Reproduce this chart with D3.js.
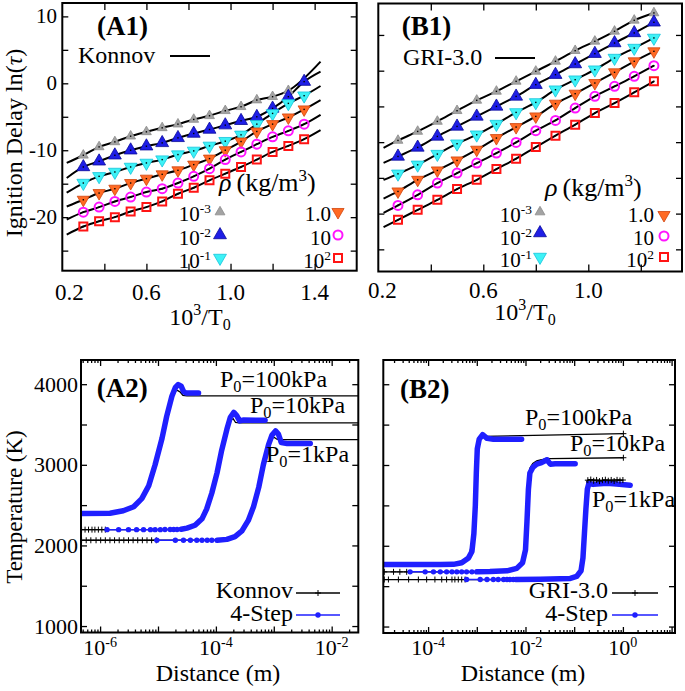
<!DOCTYPE html>
<html>
<head>
<meta charset="utf-8">
<script src="https://cdn.jsdelivr.net/npm/d3@7"></script>
<style>
  body { margin: 0; background: #fff; }
  svg { font-family: "Liberation Serif", "Times New Roman", serif; }
</style>
</head>
<body>
<div id="chart"></div>
<script>
// ---------- data: panel A1 (Konnov), ln(tau) vs 1000/T0 ----------
var xA1 = [0.30, 0.375, 0.45, 0.525, 0.60, 0.675, 0.75, 0.825, 0.90, 0.975, 1.05, 1.125, 1.20, 1.275, 1.35];
var a1Rho1e3 = [-10.75, -9.5, -8.75, -7.9, -7.25, -6.65, -6.1, -5.4, -4.85, -4.1, -3.5, -2.5, -2.0, -1.1];
var a1Rho1e2 = [-12.5, -11.65, -10.75, -10.0, -9.4, -8.9, -8.15, -7.5, -6.9, -6.25, -5.6, -5.0, -3.75, -2.0, 0.25];
var a1Rho1e1 = [-14.9, -13.9, -13.25, -12.5, -11.9, -11.4, -10.65, -10.1, -9.35, -8.65, -7.7, -6.1, -4.5, -3.0, -1.85];
var a1Rho1 = [-17.4, -16.4, -15.75, -14.9, -14.25, -13.6, -13.0, -12.15, -11.25, -10.0, -8.7, -7.2, -6.1, -5.1, -3.9];
var a1Rho10 = [-19.25, -18.5, -17.65, -17.0, -16.25, -15.75, -14.9, -13.9, -12.75, -11.4, -10.25, -9.1, -8.0, -7.1, -6.1];
var a1Rho100 = [-21.4, -20.6, -20.0, -19.15, -18.5, -17.65, -16.5, -15.6, -14.5, -13.5, -12.5, -11.4, -10.25, -9.35, -8.35];
var a1LineX = [0.221, 1.428];
var a1LineStart = [-11.9, -14.15, -16.35, -18.4, -20.35, -22.6];
var a1LineEnd = [3.24, 1.75, -0.4, -2.5, -4.7, -7.0];

// ---------- data: panel B1 (GRI-3.0) ----------
var xB1 = [0.275, 0.35, 0.425, 0.50, 0.575, 0.65, 0.725, 0.80, 0.875, 0.95, 1.025, 1.10, 1.175, 1.25];
var b1Rho1e3 = [-9.76, -8.5, -7.1, -5.6, -4.15, -2.89, -1.49, -0.09, 1.31, 2.8, 4.11, 5.51, 7.05, 8.08];
var b1Rho1e2 = [-12.0, -10.74, -9.2, -7.8, -6.4, -5.0, -3.6, -1.96, -0.56, 0.93, 2.38, 3.87, 5.28, 6.77];
var b1Rho1e1 = [-14.43, -13.17, -11.67, -10.22, -8.96, -7.47, -5.84, -4.44, -2.66, -1.26, 0.14, 1.77, 3.17, 4.58];
var b1Rho1 = [-16.9, -15.27, -13.96, -12.56, -11.06, -9.43, -7.89, -6.4, -4.62, -3.22, -1.73, -0.23, 1.31, 2.71];
var b1Rho10 = [-18.86, -17.37, -15.73, -14.33, -12.93, -11.53, -10.04, -8.4, -6.96, -5.23, -3.59, -2.19, -0.79, 0.7];
var b1Rho100 = [-20.87, -19.47, -18.07, -16.57, -15.27, -13.77, -12.32, -10.69, -9.1, -7.56, -5.93, -4.53, -3.03, -1.49];
var b1LineX = 0.22;
var b1LineStart = [-10.8, -12.9, -15.3, -17.9, -19.9, -21.9];

var rhoLegend = [["10", "-3"], ["10", "-2"], ["10", "-1"], ["1.0", ""], ["10", ""], ["10", "2"]];

// ---------- data: panel A2, [log10(distance m), temperature K] ----------
var a2Blue100 = [[-6.33, 2395], [-5.83, 2400], [-5.6, 2430], [-5.42, 2480], [-5.28, 2580], [-5.16, 2740], [-5.05, 3000],
  [-4.93, 3330], [-4.85, 3600], [-4.76, 3850], [-4.7, 3960], [-4.65, 3995], [-4.6, 3975], [-4.56, 3910], [-4.52, 3890], [-4.3, 3890]];
var a2Black100 = [[-6.33, 2395], [-5.83, 2400], [-5.6, 2425], [-5.42, 2470], [-5.28, 2565], [-5.16, 2725], [-5.05, 2985],
  [-4.93, 3315], [-4.85, 3585], [-4.76, 3830], [-4.68, 3930], [-4.62, 3905], [-4.57, 3860], [-4.5, 3855], [-1.54, 3855]];
var a2BlueDots10 = [[-5.88, 2196], [-5.68, 2196], [-5.51, 2196], [-5.37, 2196], [-5.25, 2196], [-5.13, 2196], [-5.05, 2196],
  [-4.96, 2196], [-4.88, 2197], [-4.79, 2197], [-4.73, 2198], [-4.67, 2198]];
var a2Blue10 = [[-4.6, 2200], [-4.5, 2215], [-4.36, 2250], [-4.24, 2330], [-4.16, 2450], [-4.07, 2650], [-3.98, 2900],
  [-3.9, 3180], [-3.81, 3440], [-3.75, 3590], [-3.69, 3650], [-3.64, 3610], [-3.59, 3545], [-3.52, 3555], [-3.15, 3553]];
var a2Cross10 = [[-6.32, 2196], [-6.26, 2196], [-6.2, 2196], [-6.14, 2196], [-6.09, 2196], [-6.03, 2196], [-5.97, 2196], [-5.91, 2196]];
var a2Black10 = [[-4.6, 2198], [-4.36, 2240], [-4.24, 2310], [-4.16, 2420], [-4.07, 2610], [-3.98, 2860], [-3.9, 3140],
  [-3.81, 3410], [-3.74, 3560], [-3.7, 3570], [-3.66, 3525], [-3.6, 3520], [-1.54, 3520]];
var a2BlueDots1 = [[-5.02, 2064], [-4.7, 2064], [-4.56, 2064], [-4.44, 2064], [-4.33, 2064], [-4.24, 2064], [-4.15, 2064], [-4.07, 2064]];
var a2Blue1 = [[-3.98, 2064], [-3.81, 2075], [-3.67, 2110], [-3.55, 2180], [-3.44, 2310], [-3.35, 2480], [-3.26, 2720],
  [-3.18, 3000], [-3.09, 3250], [-3.03, 3370], [-2.97, 3420], [-2.92, 3380], [-2.87, 3275], [-2.77, 3265], [-2.37, 3265]];
var a2Cross1 = [[-6.32, 2064], [-6.24, 2064], [-6.16, 2064], [-6.07, 2064], [-5.99, 2064], [-5.91, 2064], [-5.83, 2064], [-5.75, 2064],
  [-5.67, 2064], [-5.59, 2064], [-5.51, 2064], [-5.43, 2064], [-5.35, 2064], [-5.27, 2064], [-5.19, 2064], [-5.11, 2064], [-5.03, 2064]];
var a2Black1 = [[-3.98, 2064], [-3.67, 2105], [-3.55, 2170], [-3.44, 2290], [-3.35, 2455], [-3.26, 2690], [-3.18, 2970],
  [-3.09, 3225], [-3.03, 3330], [-2.99, 3340], [-2.94, 3315], [-2.85, 3313], [-1.54, 3313]];

// ---------- data: panel B2 ----------
var b2Blue100 = [[-4.92, 1768], [-4.44, 1768], [-4.1, 1768], [-3.75, 1768], [-3.48, 1770], [-3.31, 1790], [-3.17, 1850], [-3.1, 1930],
  [-3.06, 2150], [-3.03, 2500], [-3.01, 2900], [-2.99, 3200], [-2.95, 3320], [-2.88, 3375], [-2.79, 3330], [-2.66, 3320], [-2.08, 3318]];
var b2Black100 = [[-4.92, 1768], [-3.48, 1770], [-3.17, 1850], [-3.06, 2150], [-3.01, 2900], [-2.95, 3320], [-2.88, 3360],
  [-2.85, 3355], [0.01, 3388]];
var b2BlueDots10 = [[-4.37, 1677], [-4.06, 1677], [-3.89, 1677], [-3.75, 1677], [-3.62, 1677], [-3.51, 1677], [-3.41, 1677],
  [-3.31, 1677], [-3.21, 1677], [-3.1, 1677]];
var b2Blue10 = [[-3.0, 1677], [-2.73, 1680], [-2.38, 1690], [-2.18, 1720], [-2.06, 1790], [-2.0, 1950], [-1.97, 2300], [-1.94, 2700],
  [-1.91, 2900], [-1.85, 2970], [-1.77, 3010], [-1.67, 3030], [-1.56, 3065], [-1.49, 3010], [-1.39, 3015], [-0.98, 3016]];
var b2Cross10 = [[-4.9, 1677], [-4.71, 1677], [-4.58, 1677], [-4.44, 1677]];
var b2Black10 = [[-3.0, 1677], [-2.38, 1690], [-2.18, 1722], [-2.06, 1800], [-2.0, 2000], [-1.97, 2400], [-1.94, 2800],
  [-1.91, 2960], [-1.85, 3020], [-1.77, 3050], [-1.67, 3065], [-1.56, 3085], [-1.5, 3080], [0.01, 3090]];
var b2BlueDots1 = [[-3.21, 1582], [-2.93, 1582], [-2.79, 1582], [-2.66, 1582], [-2.56, 1582], [-2.45, 1582], [-2.38, 1582],
  [-2.32, 1582], [-2.25, 1582]];
var b2Blue1 = [[-2.2, 1582], [-1.7, 1585], [-1.08, 1595], [-0.95, 1620], [-0.86, 1690], [-0.82, 1850], [-0.79, 2150],
  [-0.76, 2450], [-0.73, 2700], [-0.7, 2770], [-0.61, 2760], [-0.33, 2775], [-0.13, 2765], [0.15, 2750]];
var b2Cross1 = [[-4.9, 1582], [-4.815, 1582], [-4.61, 1582], [-4.4, 1582], [-4.2, 1582], [-4.03, 1582], [-3.86, 1582], [-3.72, 1582],
  [-3.62, 1582], [-3.51, 1582], [-3.45, 1582], [-3.38, 1582], [-3.31, 1582], [-3.24, 1582]];
var b2Black1 = [[-2.2, 1582], [-1.08, 1595], [-0.95, 1625], [-0.86, 1700], [-0.82, 1880], [-0.79, 2200], [-0.76, 2550],
  [-0.74, 2800], [-0.7, 2815], [-0.4, 2805], [-0.1, 2815], [0.01, 2812]];
var b2PlateauCross1 = [[-0.72, 2812], [-0.66, 2820], [-0.6, 2805], [-0.54, 2815], [-0.48, 2800], [-0.42, 2812], [-0.36, 2818],
  [-0.3, 2806], [-0.24, 2815], [-0.18, 2802], [-0.12, 2816], [-0.06, 2808], [0.0, 2814]];

var a2Pressure = ["100kPa", "10kPa", "1kPa"];

// ---------- layout ----------
var svg = d3.select("#chart").append("svg").attr("width", 685).attr("height", 691);

var boxA1 = { x0: 62.3, x1: 356.7, y0: 3, y1: 270.7 };
var boxB1 = { x0: 378.3, x1: 682, y0: 3.5, y1: 271.5 };
var boxA2 = { x0: 81, x1: 358.3, y0: 360, y1: 632.5 };
var boxB2 = { x0: 383.3, x1: 675, y0: 360, y1: 633 };

var xScA1 = d3.scaleLinear().domain([0.2, 1.6]).range([boxA1.x0, boxA1.x1]);
var yScA1 = d3.scaleLinear().domain([-28, 12]).range([boxA1.y1, boxA1.y0]);
var xScB1 = d3.scaleLinear().domain([0.2, 1.357]).range([boxB1.x0, boxB1.x1]);
var yScB1 = d3.scaleLinear().domain([-28.1, 9.4]).range([boxB1.y1, boxB1.y0]);
var xScA2 = d3.scaleLog().domain([Math.pow(10, -6.33), Math.pow(10, -1.54)]).range([boxA2.x0, boxA2.x1]);
var yScA2 = d3.scaleLinear().domain([920, 4300]).range([boxA2.y1, boxA2.y0]);
var xScB2 = d3.scaleLog().domain([Math.pow(10, -4.92), Math.pow(10, 1.07)]).range([boxB2.x0, boxB2.x1]);
var yScB2 = d3.scaleLinear().domain([920, 4300]).range([boxB2.y1, boxB2.y0]);

var blue = "#1f1fff";

function plotArea(box, id) {
  svg.append("clipPath").attr("id", id).append("rect")
    .attr("x", box.x0).attr("y", box.y0)
    .attr("width", box.x1 - box.x0).attr("height", box.y1 - box.y0);
  return svg.append("g").attr("clip-path", "url(#" + id + ")");
}

function frame(box) {
  svg.append("rect")
    .attr("x", box.x0).attr("y", box.y0)
    .attr("width", box.x1 - box.x0).attr("height", box.y1 - box.y0)
    .attr("fill", "none").attr("stroke", "#000").attr("stroke-width", 2);
}

// inward ticks on all four sides
function tickSet(box, xs, ys, xVals, xLen, yVals, yLen) {
  var clean = function (g) {
    g.select(".domain").remove();
    g.selectAll("line").attr("stroke-width", 1.3);
  };
  svg.append("g").attr("transform", `translate(0,${box.y1})`)
    .call(d3.axisBottom(xs).tickValues(xVals).tickSize(-xLen).tickFormat("")).call(clean);
  svg.append("g").attr("transform", `translate(0,${box.y0})`)
    .call(d3.axisTop(xs).tickValues(xVals).tickSize(-xLen).tickFormat("")).call(clean);
  if (yVals) {
    svg.append("g").attr("transform", `translate(${box.x0},0)`)
      .call(d3.axisLeft(ys).tickValues(yVals).tickSize(-yLen).tickFormat("")).call(clean);
    svg.append("g").attr("transform", `translate(${box.x1},0)`)
      .call(d3.axisRight(ys).tickValues(yVals).tickSize(-yLen).tickFormat("")).call(clean);
  }
}

function logTicks(scale, major) {
  var d = scale.domain(), out = [];
  for (var e = Math.floor(Math.log10(d[0])); e <= Math.ceil(Math.log10(d[1])); e++) {
    for (var k = 1; k < 10; k++) {
      var v = k * Math.pow(10, e);
      if (v > d[0] && v < d[1] && ((k === 1) === major)) out.push(v);
    }
  }
  return out;
}

function text(x, y, size, str, anchor) {
  return svg.append("text").attr("x", x).attr("y", y)
    .attr("font-size", size).attr("text-anchor", anchor || "start").text(str);
}

function supText(x, y, size, base, sup, anchor) {
  var t = svg.append("text").attr("x", x).attr("y", y)
    .attr("font-size", size).attr("text-anchor", anchor || "start");
  t.append("tspan").text(base);
  if (sup) t.append("tspan").attr("dy", -size * 0.36).attr("font-size", size * 0.64).text(sup);
  return t;
}

function pLabel(x, y, size, p) {
  var t = svg.append("text").attr("x", x).attr("y", y).attr("font-size", size);
  t.append("tspan").text("P");
  t.append("tspan").attr("dy", size * 0.22).attr("font-size", size * 0.68).text("0");
  t.append("tspan").attr("dy", -size * 0.22).text("=" + p);
}

// ---------- marker styles for the density series ----------
var rhoStyles = [
  { shape: "up", size: 42, fill: "#a3a3a3", stroke: "#8c8c8c" },
  { shape: "up", size: 72, fill: "#1e1ee6", stroke: "#0a0a99" },
  { shape: "down", size: 72, fill: "#3ef2f6", stroke: "#14c4dc" },
  { shape: "down", size: 64, fill: "#ff6a24", stroke: "#d0440c" },
  { shape: "circle", r: 4.5, stroke: "#ff14ff" },
  { shape: "square", size: 64, stroke: "#ff1414" }
];

function mark(g, st, x, y) {
  if (st.shape === "circle") {
    g.append("circle").attr("cx", x).attr("cy", y).attr("r", st.r)
      .attr("fill", "none").attr("stroke", st.stroke).attr("stroke-width", 2);
  } else if (st.shape === "square") {
    g.append("path").attr("d", d3.symbol(d3.symbolSquare, st.size)())
      .attr("transform", `translate(${x},${y})`)
      .attr("fill", "none").attr("stroke", st.stroke).attr("stroke-width", 2);
  } else {
    g.append("path").attr("d", d3.symbol(d3.symbolTriangle, st.size)())
      .attr("transform", `translate(${x},${y})` + (st.shape === "down" ? " rotate(180)" : ""))
      .attr("fill", st.fill).attr("stroke", st.stroke).attr("stroke-width", 0.8);
  }
}

function crossMark(g, x, y, s) {
  g.append("path").attr("d", `M${x - s},${y}H${x + s}M${x},${y - s}V${y + s}`)
    .attr("stroke", "#000").attr("stroke-width", 1);
}

// ---------- A1 / B1 ----------
function drawDelayPanel(box, xs, ys, xVals, series, lines, id) {
  var g = plotArea(box, id);
  var line = d3.line().x(d => xs(d[0])).y(d => ys(d[1])).curve(d3.curveMonotoneX);
  lines.forEach(function (pts) {
    g.append("path").attr("d", line(pts)).attr("fill", "none")
      .attr("stroke", "#000").attr("stroke-width", 2);
  });
  series.forEach(function (vals, i) {
    vals.forEach(function (v, j) {
      mark(g, rhoStyles[i], xs(xVals[j]), ys(v));
      g.append("rect").attr("x", xs(xVals[j]) - 0.7).attr("y", ys(v) - 0.7)
        .attr("width", 1.4).attr("height", 1.4).attr("fill", "#000");
    });
  });
}

var seriesA1 = [a1Rho1e3, a1Rho1e2, a1Rho1e1, a1Rho1, a1Rho10, a1Rho100];
var linesA1 = seriesA1.map(function (vals, i) {
  var pts = [[a1LineX[0], a1LineStart[i]]];
  vals.forEach(function (v, j) { pts.push([xA1[j], v]); });
  pts.push([a1LineX[1], a1LineEnd[i]]);
  return pts;
});
drawDelayPanel(boxA1, xScA1, yScA1, xA1, seriesA1, linesA1, "clipA1");

var seriesB1 = [b1Rho1e3, b1Rho1e2, b1Rho1e1, b1Rho1, b1Rho10, b1Rho100];
var linesB1 = seriesB1.map(function (vals, i) {
  var pts = [[b1LineX, b1LineStart[i]]];
  vals.forEach(function (v, j) { pts.push([xB1[j], v]); });
  return pts;
});
drawDelayPanel(boxB1, xScB1, yScB1, xB1, seriesB1, linesB1, "clipB1");

var fifths = d3.range(-25, 11, 5);
tickSet(boxA1, xScA1, yScA1, [0.4, 0.6, 0.8, 1.0, 1.2, 1.4], 7, fifths, 6);
tickSet(boxB1, xScB1, yScB1, [0.4, 0.6, 0.8, 1.0, 1.2], 7, d3.range(-25, 6, 5), 6);
frame(boxA1);
frame(boxB1);

// tick labels
[10, 0, -10, -20].forEach(function (v) {
  text(57, yScA1(v) + 7, 21, String(v), "end");
});
[0.2, 0.6, 1.0, 1.4].forEach(function (v, i) {
  text(xScA1(v) + (i === 0 ? 7 : 0), 300, 23, v.toFixed(1), "middle");
});
[0.2, 0.6, 1.0].forEach(function (v, i) {
  text(xScB1(v) + (i === 0 ? 4 : 0), 298, 23, v.toFixed(1), "middle");
});

// axis titles
var yt = svg.append("text").attr("transform", "translate(22,143) rotate(-90)")
  .attr("font-size", 24).attr("text-anchor", "middle");
yt.append("tspan").text("Ignition Delay ln(");
yt.append("tspan").attr("font-style", "italic").text("τ");
yt.append("tspan").text(")");

function invT(cx, y) {
  var t = svg.append("text").attr("x", cx).attr("y", y).attr("font-size", 24).attr("text-anchor", "middle");
  t.append("tspan").text("10");
  t.append("tspan").attr("dy", -10).attr("font-size", 16).text("3");
  t.append("tspan").attr("dy", 10).text("/T");
  t.append("tspan").attr("dy", 5).attr("font-size", 16).text("0");
}
invT(200, 325);
invT(525, 320);

// panel tags and model legends
text(97, 35, 27, "(A1)").attr("font-weight", "bold");
text(401.7, 35, 27, "(B1)").attr("font-weight", "bold");
text(78, 63, 24, "Konnov");
svg.append("line").attr("x1", 170).attr("x2", 210).attr("y1", 56).attr("y2", 56)
  .attr("stroke", "#000").attr("stroke-width", 2);
text(403, 65, 24, "GRI-3.0");
svg.append("line").attr("x1", 495).attr("x2", 535).attr("y1", 58).attr("y2", 58)
  .attr("stroke", "#000").attr("stroke-width", 2);

// density legends
function rhoHeader(x, y) {
  var t = svg.append("text").attr("x", x).attr("y", y).attr("font-size", 26);
  t.append("tspan").attr("font-style", "italic").text("ρ");
  t.append("tspan").attr("dx", 5).text("(kg/m");
  t.append("tspan").attr("dy", -10).attr("font-size", 17).text("3");
  t.append("tspan").attr("dy", 10).text(")");
}
function rhoLegendBlock(leftEnd, leftMark, rightEnd, rightMark, rows, markRows, rightMarkRows) {
  rhoLegend.forEach(function (lab, i) {
    var col = i < 3 ? 0 : 1, r = i % 3;
    supText(col ? rightEnd : leftEnd, rows[r], 21, lab[0], lab[1], "end");
    mark(svg, rhoStyles[i], col ? rightMark : leftMark, col ? rightMarkRows[r] : markRows[r]);
  });
}
rhoHeader(219, 191);
rhoLegendBlock(211, 220, 331, 338, [221, 245, 268], [212, 235, 258], [212, 235, 258]);
rhoHeader(545, 196);
rhoLegendBlock(532, 540, 654, 664, [222, 245, 267], [212, 233, 257], [215, 236, 257]);

// ---------- A2 / B2 ----------
function drawTempPanel(box, xs, ys, id, black, crosses, blueThick, blueDots) {
  var g = plotArea(box, id);
  var line = d3.line().x(d => xs(Math.pow(10, d[0]))).y(d => ys(d[1]));
  black.forEach(function (pts, i) {
    var all = crosses[i].concat(pts);
    g.append("path").attr("d", line(all)).attr("fill", "none")
      .attr("stroke", "#000").attr("stroke-width", 1.3);
    crosses[i].forEach(function (d) { crossMark(g, xs(Math.pow(10, d[0])), ys(d[1]), 3); });
  });
  blueThick.forEach(function (pts, i) {
    var dots = blueDots[i];
    if (dots.length) {
      g.append("path").attr("d", line(dots.concat([pts[0]]))).attr("fill", "none")
        .attr("stroke", blue).attr("stroke-width", 1.5);
      dots.forEach(function (d) {
        g.append("circle").attr("cx", xs(Math.pow(10, d[0]))).attr("cy", ys(d[1]))
          .attr("r", 2.7).attr("fill", blue);
      });
    }
    g.append("path").attr("d", line(pts)).attr("fill", "none")
      .attr("stroke", blue).attr("stroke-width", 5.5)
      .attr("stroke-linejoin", "round").attr("stroke-linecap", "round");
  });
  return g;
}

drawTempPanel(boxA2, xScA2, yScA2, "clipA2",
  [a2Black100, a2Black10, a2Black1], [[], a2Cross10, a2Cross1],
  [a2Blue100, a2Blue10, a2Blue1], [[], a2BlueDots10, a2BlueDots1]);
var gB2 = drawTempPanel(boxB2, xScB2, yScB2, "clipB2",
  [b2Black100, b2Black10, b2Black1], [[], b2Cross10, b2Cross1],
  [b2Blue100, b2Blue10, b2Blue1], [[], b2BlueDots10, b2BlueDots1]);
// end markers of the GRI-3.0 curves and the dense 1kPa plateau
[b2Black100, b2Black10].forEach(function (pts) {
  var d = pts[pts.length - 1];
  crossMark(gB2, xScB2(Math.pow(10, d[0])), yScB2(d[1]), 3);
});
b2PlateauCross1.forEach(function (d) {
  crossMark(gB2, xScB2(Math.pow(10, d[0])), yScB2(d[1]), 3);
});

var tempTicks = d3.range(1000, 4001, 500);
tickSet(boxA2, xScA2, yScA2, logTicks(xScA2, true), 6, tempTicks, 6);
tickSet(boxA2, xScA2, yScA2, logTicks(xScA2, false), 3, null, 0);
tickSet(boxB2, xScB2, yScB2, logTicks(xScB2, true), 6, tempTicks, 6);
tickSet(boxB2, xScB2, yScB2, logTicks(xScB2, false), 3, null, 0);
frame(boxA2);
frame(boxB2);

[1000, 2000, 3000, 4000].forEach(function (v) {
  text(78, yScA2(v) + 7.5, 22, String(v), "end");
});
[-6, -4, -2].forEach(function (e) {
  supText(xScA2(Math.pow(10, e)), 655, 22, "10", String(e), "middle");
});
[-4, -2, 0].forEach(function (e) {
  supText(xScB2(Math.pow(10, e)), 655, 22, "10", String(e), "middle");
});

svg.append("text").attr("transform", "translate(22,507) rotate(-90)")
  .attr("font-size", 23).attr("text-anchor", "middle").text("Temperature (K)");
text(218, 681, 24, "Distance (m)", "middle");
text(523, 681, 24, "Distance (m)", "middle");

text(96.7, 397, 27, "(A2)").attr("font-weight", "bold");
text(400, 398, 27, "(B2)").attr("font-weight", "bold");

pLabel(220, 387, 24, a2Pressure[0]);
pLabel(250, 413, 24, a2Pressure[1]);
pLabel(266, 462, 24, a2Pressure[2]);
pLabel(525, 425, 24, a2Pressure[0]);
pLabel(570, 451, 24, a2Pressure[1]);
pLabel(592, 507, 24, a2Pressure[2]);

// model legends in A2 / B2
function modelLegend(textEnd, x1, x2, name, y1, y2) {
  text(textEnd, y1 + 5, 24, name, "end");
  svg.append("line").attr("x1", x1).attr("x2", x2).attr("y1", y1).attr("y2", y1)
    .attr("stroke", "#000").attr("stroke-width", 1.3);
  crossMark(svg, (x1 + x2) / 2, y1, 3);
  text(textEnd, y2 + 6, 24, "4-Step", "end");
  svg.append("line").attr("x1", x1).attr("x2", x2).attr("y1", y2).attr("y2", y2)
    .attr("stroke", blue).attr("stroke-width", 1.5);
  svg.append("circle").attr("cx", (x1 + x2) / 2).attr("cy", y2).attr("r", 2.7).attr("fill", blue);
}
modelLegend(293, 296, 340, "Konnov", 593, 615);
modelLegend(608, 612, 658, "GRI-3.0", 593, 615);
</script>
</body>
</html>
